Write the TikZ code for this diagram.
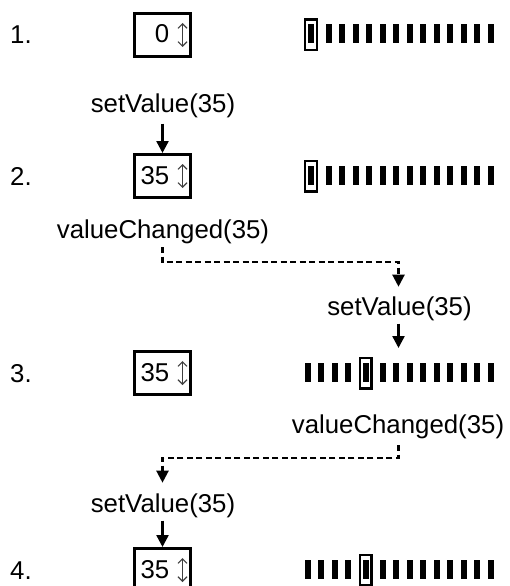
\documentclass[tikz,border=0pt]{standalone}
\usepackage{fontspec}
\setmainfont{Liberation Sans}
\usetikzlibrary{arrows.meta}
\begin{document}
\begin{tikzpicture}[x=1pt,y=-1pt,
  txt/.style={inner sep=0pt, font=\fontsize{25.8}{30}\selectfont},
  spinbox/.style={draw, line width=3pt, minimum width=56pt, minimum height=43pt, inner sep=0pt},
  selbox/.style={draw, line width=2.4pt, minimum width=11.6pt, minimum height=30.6pt, inner sep=0pt},
  arr/.style={line width=2.4pt, -{Triangle[width=12pt,length=12pt]}},
  dasharr/.style={line width=2.2pt, dash pattern=on 6pt off 3.5pt, -{Triangle[width=12pt,length=12pt]}},
  spin/.style={line width=1.1pt, black!75, {Straight Barb[width=9pt,length=4.5pt]}-{Straight Barb[width=9pt,length=4.5pt]}},
  bar/.style={fill=black}
]
\useasboundingbox (0,0) rectangle (509,586);
\clip (0,0) rectangle (509,586);

% row labels
\node[txt, anchor=base west] (lab1) at (10,44) {1.};
\node[txt, anchor=base west] (lab2) at (10,185) {2.};
\node[txt, anchor=base west] (lab3) at (10,382) {3.};
\node[txt, anchor=base west] (lab4) at (10,579) {4.};

% spin boxes
\foreach \n/\rc/\v in {1/35/0, 2/176/35, 3/373/35, 4/570/35}{
  \node[spinbox] (box\n) at (162.5,\rc) {};
  \node[txt, anchor=base east] (val\n) at (169.5,\rc+8) {\v};
  \draw[spin] (182.5,\rc-12) -- (182.5,\rc+12);
}

% sliders, rows 1 and 2
\foreach \n/\rc in {1/35, 2/176}{
  \foreach \x in {311,328.5,342,355.5,369,382.5,396,409.5,423,436.5,450,463.5,477,490.5}
    \fill[bar] (\x-3,\rc-10.5) rectangle ++(6,19);
  \node[selbox] (sel\n) at (311,\rc) {};
}
% sliders, rows 3 and 4
\foreach \n/\rc in {3/373, 4/570}{
  \foreach \x in {307.5,321,334.5,348,365.5,382.5,396,409.5,423,436.5,450,463.5,477,490.5}
    \fill[bar] (\x-3,\rc-10.5) rectangle ++(6,19);
  \node[selbox] (sel\n) at (365.5,\rc) {};
}

% call texts
\node[txt, anchor=base] (sv1) at (163,112) {setValue(35)};
\node[txt, anchor=base] (vc1) at (163,238.5) {valueChanged(35)};
\node[txt, anchor=base] (sv2) at (399.5,315) {setValue(35)};
\node[txt, anchor=base] (vc2) at (398,433) {valueChanged(35)};
\node[txt, anchor=base] (sv3) at (163,512) {setValue(35)};

\coordinate (d1) at (398.5,262);
\coordinate (t3) at (398.5,348);
\coordinate (d2) at (162.5,458);

% connectors
\draw[arr, shorten <=6pt] (sv1.south -| box2.north) -- (box2.north);
\draw[dasharr, shorten <=3pt, shorten >=9.4pt] (vc1.south -| box2.center) |- (d1) -- (d1 |- sv2.north);
\draw[arr, shorten <=3pt] (sv2.south -| t3) -- (t3);
\draw[dasharr, shorten <=6.5pt, shorten >=10.4pt] (vc2.south -| d1) |- (d2) -- (d2 |- sv3.north);
\draw[arr, shorten <=3pt] (sv3.south -| box4.north) -- (box4.north);
\end{tikzpicture}
\end{document}
